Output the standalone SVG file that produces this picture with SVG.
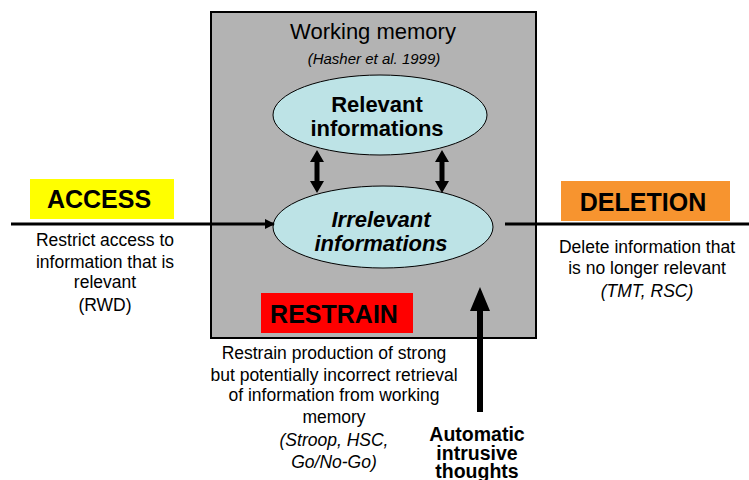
<svg xmlns="http://www.w3.org/2000/svg" width="749" height="480" viewBox="0 0 749 480">
<defs>
<style>
text{font-family:"Liberation Sans",Arial,sans-serif;fill:#000;text-anchor:middle}
.t{font-size:17.5px}
.it{font-style:italic}
.lab{font-size:25px;font-weight:bold}
.eb{font-size:22px;font-weight:bold}
.au{font-size:19.5px;font-weight:bold}
.ell{fill:#bde3e6;stroke:#000;stroke-width:1}
.ln{stroke:#000;stroke-width:3;fill:none}
</style>
<marker id="ah" markerWidth="10" markerHeight="10" refX="9" refY="5" orient="auto" markerUnits="userSpaceOnUse">
<path d="M0,0 L10,5 L0,10 Z" fill="#000"/>
</marker>
</defs>
<rect width="749" height="480" fill="#fff"/>
<g id="working-memory">
<rect x="211" y="12" width="325" height="326" fill="#b3b3b3" stroke="#000" stroke-width="2"/>
<text x="373" y="39" style="font-size:22px">Working memory</text>
<text x="374" y="64" class="it" style="font-size:15px">(Hasher et al. 1999)</text>
</g>
<g id="relevant">
<ellipse class="ell" cx="380" cy="115" rx="107" ry="40"/>
<text x="377" y="112" class="eb">Relevant</text>
<text x="377" y="136" class="eb">informations</text>
</g>
<g id="irrelevant">
<ellipse class="ell" cx="383" cy="227" rx="110" ry="41"/>
<text x="381" y="227" class="eb it">Irrelevant</text>
<text x="381" y="251" class="eb it">informations</text>
</g>
<g id="access">
<rect x="30" y="179" width="144" height="40" fill="#ffff00"/>
<text x="99" y="208" class="lab">ACCESS</text>
<text x="105" y="246" class="t">Restrict access to</text>
<text x="105" y="268" class="t">information that is</text>
<text x="105" y="288" class="t">relevant</text>
<text x="105" y="311" class="t">(RWD)</text>
</g>
<g id="deletion">
<rect x="561" y="181" width="169" height="40" fill="#f7942f"/>
<text x="643" y="211" class="lab">DELETION</text>
<text x="647" y="253" class="t">Delete information that</text>
<text x="647" y="274" class="t">is no longer relevant</text>
<text x="647" y="297" class="t it">(TMT, RSC)</text>
</g>
<g id="restrain">
<rect x="261" y="293" width="152" height="40" fill="#ff0000"/>
<text x="334" y="323" class="lab">RESTRAIN</text>
<text x="334" y="359" class="t">Restrain production of strong</text>
<text x="334" y="381" class="t">but potentially incorrect retrieval</text>
<text x="334" y="401" class="t">of information from working</text>
<text x="334" y="423" class="t">memory</text>
<text x="334" y="446" class="t it">(Stroop, HSC,</text>
<text x="334" y="468" class="t it">Go/No-Go)</text>
</g>
<g id="automatic">
<text x="477" y="441" class="au">Automatic</text>
<text x="477" y="460" class="au">intrusive</text>
<text x="477" y="478" class="au">thoughts</text>
</g>
<g id="connectors">
<line class="ln" x1="11" y1="224" x2="274" y2="224" marker-end="url(#ah)"/>
<line class="ln" x1="505" y1="224" x2="749" y2="224"/>
<path d="M317,150 L324,162 L319.5,162 L319.5,181 L324,181 L317,193 L310,181 L314.5,181 L314.5,162 L310,162 Z" fill="#000"/>
<path d="M442,150 L449,162 L444.5,162 L444.5,181 L449,181 L442,193 L435,181 L439.5,181 L439.5,162 L435,162 Z" fill="#000"/>
<path d="M480,287 L490,311 L483,311 L483,412 L477,412 L477,311 L470,311 Z" fill="#000"/>
</g>
</svg>
